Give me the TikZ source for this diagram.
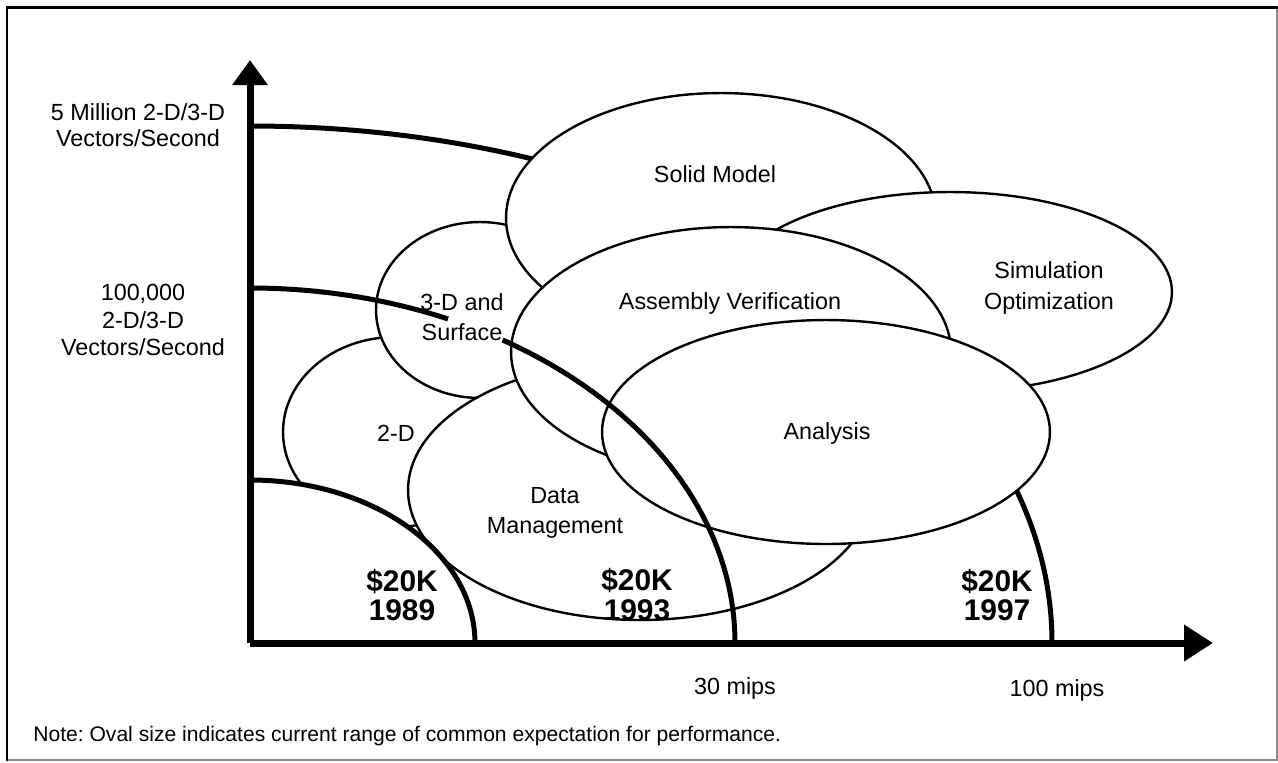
\documentclass[tikz,border=0pt]{standalone}
\usepackage{fontspec}
\setmainfont{Liberation Sans}
\usetikzlibrary{arrows.meta,shapes.geometric}
\frenchspacing

\begin{document}
\begin{tikzpicture}[x=0.02cm,y=-0.02cm,
  oval/.style={draw, ellipse, fill=white, line width=0.048cm, inner sep=0pt, outer sep=0pt},
  costcurve/.style={line width=0.1cm},
  axisline/.style={line width=0.14cm},
  lbl/.style={font=\fontsize{13.3}{17.3}\selectfont, inner sep=0pt, align=center},
  axlbl/.style={inner sep=0pt, align=center},
  price/.style={font=\bfseries\fontsize{17}{17}\selectfont, inner sep=0pt, align=center}]
\useasboundingbox (0,0) rectangle (1278,762);

% frame: heavy top and left edges, light right and bottom edges
\coordinate (ftl) at (7,7);
\coordinate (ftr) at (1277,7);
\coordinate (fbl) at (7,760);
\coordinate (fbr) at (1277,760);
\draw[line width=0.03cm, black!45] (ftr) -- (fbr) -- (fbl);
\draw[line width=0.06cm, line cap=round] (fbl) -- (ftl) -- (ftr);

% origin of the performance axes
\coordinate (o) at (250,643);
\coordinate (ytip) at (250,60);
\coordinate (xtip) at (1213,643);

% 1997 boundary, lying behind the ovals
\draw[costcurve] (250,126) arc[start angle=-90, end angle=0, x radius=802, y radius=517];

% ovals, from back to front
\node[oval, minimum width=4.48cm, minimum height=3.8cm]  (twod)     at (395,432) {};
\node[oval, minimum width=4.16cm, minimum height=3.52cm] (threed)   at (480,310) {};
\node[oval, minimum width=8.6cm,  minimum height=5.0cm]  (solid)    at (721,218) {};
\node[oval, minimum width=8.88cm, minimum height=4.0cm]  (sim)      at (950,292) {};
\node[oval, minimum width=9.28cm, minimum height=5.2cm]  (datamgmt) at (640,490) {};
\node[oval, minimum width=8.8cm,  minimum height=5.0cm]  (assembly) at (731,352) {};
\node[oval, minimum width=8.96cm, minimum height=4.48cm] (analysis) at (826,432) {};

% 1989 region covers the ovals below it
\fill[white] (250,480) arc[start angle=-90, end angle=0, x radius=225, y radius=163] -- (o) -- cycle;
\draw[costcurve] (250,480) arc[start angle=-90, end angle=0, x radius=225, y radius=163];

% 1993 boundary, on top of the ovals, broken at the 3-D label
\draw[costcurve] (250,288) arc[start angle=-90, end angle=-65.9, x radius=485, y radius=355];
\draw[costcurve] (o) ++(58.6:485 and -355) arc[start angle=-58.6, end angle=0, x radius=485, y radius=355];

% axes
\draw[axisline, -{Triangle[length=0.5cm, width=0.68cm]}] (o) -- (ytip);
\draw[axisline, -{Triangle[length=0.58cm, width=0.7cm]}] (o) -- (xtip);

% oval labels
\node[lbl] (tsolid) at (715,174) {Solid Model};
\node[lbl] (t3d) at (462,317) {3-D and\\Surface};
\node[lbl] (tassembly) at (730,303) {Assembly Verification};
\node[lbl] (tsim) at (1049,288) {Simulation\\Optimization};
\node[lbl] (t2d) at (396,433) {2-D};
\node[lbl] (tdm) at (555,513) {Data\\Management};
\node[lbl] (tanalysis) at (827,433) {Analysis};

% axis labels
\node[axlbl, font=\fontsize{13.3}{14.7}\selectfont] (y5m) at (138,125) {5 Million 2-D/3-D\\Vectors/Second};
\node[axlbl, font=\fontsize{13.3}{15.9}\selectfont] (y100k) at (143,320) {100,000\\2-D/3-D\\Vectors/Second};
\node[lbl] (x30) at (735,688) {30 mips};
\node[lbl] (x100) at (1057,690) {100 mips};

% price points
\node[price] (p89) at (402,595) {\$20K\\1989};
\node[price] (p93) at (637,595) {\$20K\\1993};
\node[price] (p97) at (997,595) {\$20K\\1997};

% note
\node[anchor=west, inner sep=0pt, font=\fontsize{12}{14}\selectfont] (note) at (33,736)
  {Note: Oval size indicates current range of common expectation for performance.};
\end{tikzpicture}
\end{document}
